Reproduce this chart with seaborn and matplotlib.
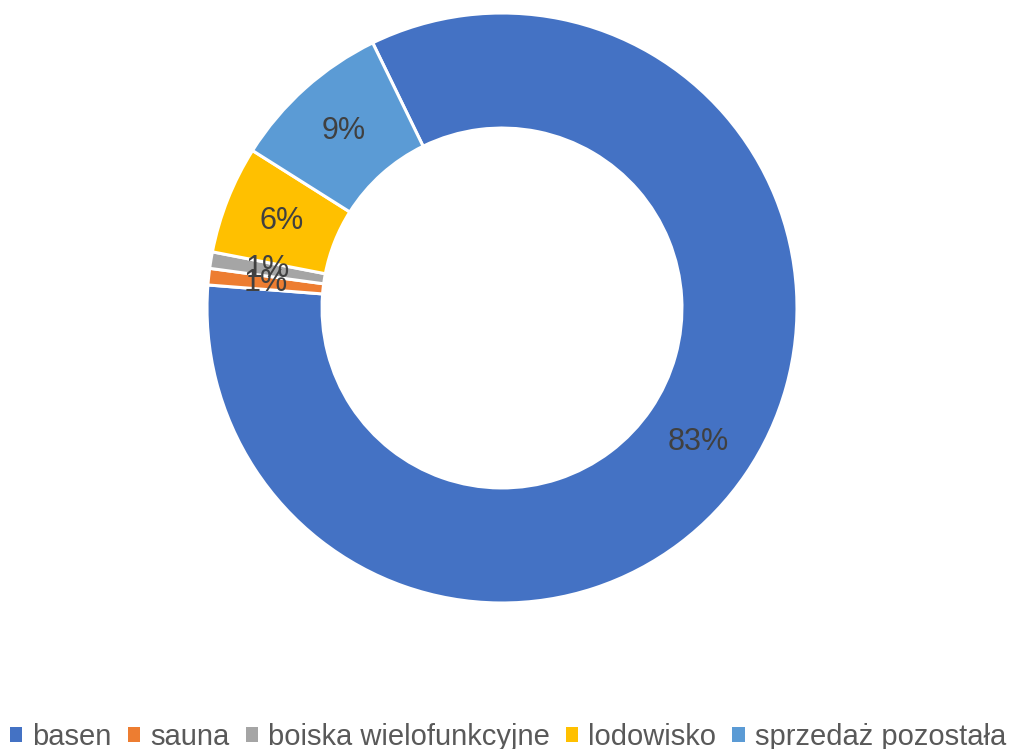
import numpy as np
import pandas as pd
import matplotlib
matplotlib.use("Agg")
import matplotlib.pyplot as plt
import seaborn as sns
from matplotlib.patches import Patch

# data
categories = ["basen", "sauna", "boiska wielofunkcyjne", "lodowisko", "sprzedaż pozostała"]
shares = [83.3, 0.9, 0.9, 5.9, 8.8]
colors = ["#4472C4", "#ED7D31", "#A5A5A5", "#FFC000", "#5B9BD5"]

sns.set_theme(style = "white")
plt.rcParams["font.family"] = ["Liberation Sans", "DejaVu Sans"]

df = pd.DataFrame({"category": categories, "share": shares})
palette = sns.color_palette(colors)

fig = plt.figure(figsize = (10.1, 7.49), dpi = 100)
ax = fig.add_axes([207 / 1010, 146 / 749, 590 / 1010, 590 / 749])

wedges, texts, autotexts = ax.pie(
    df["share"], colors = palette, startangle = 116, counterclock = False,
    radius = 1.0, autopct = "%.0f%%", pctdistance = 0.805,
    wedgeprops = dict(width = 0.39, edgecolor = "white", linewidth = 2.2),
    textprops = dict(color = "#404040", fontsize = 22),
)
ax.set_xlim(-1, 1)
ax.set_ylim(-1, 1)
ax.set_aspect("equal")
ax.axis("off")

handles = [Patch(facecolor = c, edgecolor = "none") for c in palette]
fig.legend(handles, df["category"], loc = "center", bbox_to_anchor = (0.503, 0.016),
           ncol = 5, frameon = False, fontsize = 21, labelcolor = "#595959",
           handlelength = 0.42, handleheight = 0.42, handletextpad = 0.35,
           columnspacing = 0.55, borderpad = 0, borderaxespad = 0)

fig.savefig("out.png", dpi = 100)
